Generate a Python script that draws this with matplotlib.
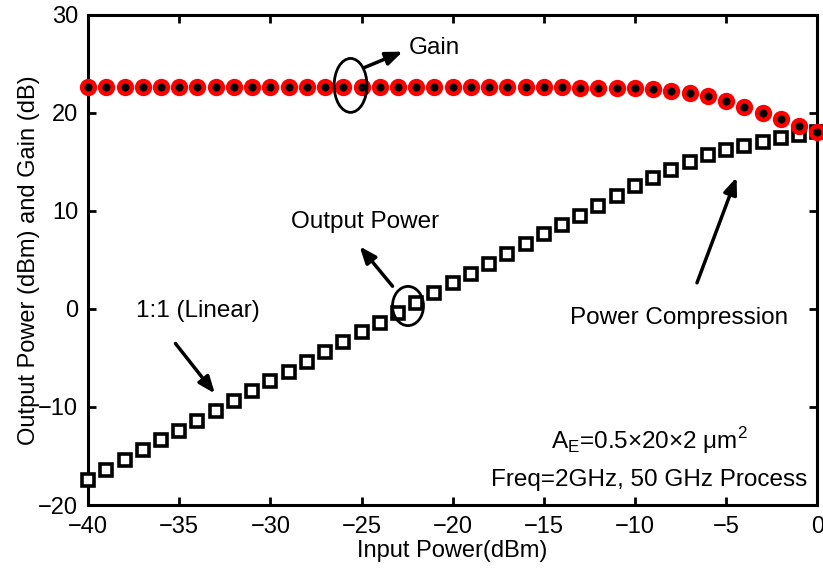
import numpy as np
import matplotlib.pyplot as plt
from matplotlib.patches import Ellipse

plt.rcParams['font.family'] = ['Liberation Sans', 'DejaVu Sans']

input_power = np.arange(-40, 1, 1)
gain = [22.6] * 27 + [22.5, 22.5, 22.5, 22.5,
                      22.4, 22.2, 22.0, 21.7, 21.2, 20.6, 20.0, 19.4, 18.7, 18.0]
output_power = [-17.4, -16.4, -15.4, -14.4, -13.4, -12.4, -11.4, -10.4, -9.4, -8.4,
                -7.4, -6.4, -5.4, -4.4, -3.4, -2.4, -1.4, -0.4, 0.6, 1.6,
                2.6, 3.6, 4.6, 5.6, 6.6, 7.6, 8.6, 9.5, 10.5, 11.5,
                12.5, 13.4, 14.2, 15.0, 15.7, 16.2, 16.6, 17.0, 17.4, 17.7, 18.0]

fs = 17
fa = 17.5
fig = plt.figure(figsize=(8.23, 5.70), dpi=100)
ax = fig.add_axes([0.107, 0.114, 0.886, 0.86])

ax.plot(input_power, output_power, 's', ms=8, mfc='white', mec='black',
        mew=2.6, clip_on=False, zorder=3)
ax.plot(input_power, gain, 'o', ms=12.5, mfc='red', mec='none', clip_on=False, zorder=4)
ax.plot(input_power, gain, 'o', ms=5.8, mfc='black', mec='none', clip_on=False, zorder=5)

ax.set_xlim(-40, 0)
ax.set_ylim(-20, 30)
ax.set_xticks(np.arange(-40, 1, 5))
ax.set_yticks(np.arange(-20, 31, 10))
ax.set_xticklabels(['\u2212%d' % -v if v < 0 else '%d' % v for v in range(-40, 1, 5)])
ax.set_yticklabels(['\u2212%d' % -v if v < 0 else '%d' % v for v in range(-20, 31, 10)])
ax.tick_params(direction='in', length=6, width=2, labelsize=fs, top=True, right=True)
ax.tick_params(axis='x', pad=8)
ax.tick_params(axis='y', pad=7)
for s in ax.spines.values():
    s.set_linewidth(2.2)

ax.set_xlabel('Input Power(dBm)', fontsize=fs, labelpad=1)
ax.set_ylabel('Output Power (dBm) and Gain (dB)', fontsize=fs, labelpad=-1)

arrow = dict(arrowstyle='-|>,head_length=1.0,head_width=0.4', lw=2.5, color='black')

ax.add_patch(Ellipse((-25.6, 22.8), 1.8, 5.5, fill=False, lw=2, ec='black', zorder=6))
ax.annotate('', xy=(-22.6, 26.35), xytext=(-25.0, 24.5), arrowprops=arrow)
ax.text(-22.4, 26.6, 'Gain', fontsize=fa, ha='left', va='center')

ax.add_patch(Ellipse((-22.45, 0.3), 1.7, 4.0, fill=False, lw=2, ec='black', zorder=6))
ax.annotate('', xy=(-25.2, 6.6), xytext=(-23.2, 2.1), arrowprops=arrow)
ax.text(-24.8, 8.9, 'Output Power', fontsize=fa, ha='center', va='center')

ax.annotate('', xy=(-32.95, -8.85), xytext=(-35.3, -3.3), arrowprops=arrow)
ax.text(-34.0, -0.2, '1:1 (Linear)', fontsize=fa, ha='center', va='center')

ax.annotate('', xy=(-4.37, 13.7), xytext=(-6.65, 2.4), arrowprops=arrow)
ax.text(-7.6, -0.9, 'Power Compression', fontsize=fa, ha='center', va='center')

ax.text(-9.2, -13.4, 'A$_\\mathregular{E}$=0.5\u00d720\u00d72 \u03bcm$^\\mathregular{2}$',
        fontsize=fa, ha='center', va='center')
ax.text(-9.2, -17.4, 'Freq=2GHz, 50 GHz Process', fontsize=fa, ha='center', va='center')

fig.savefig('out.png', dpi=100)
